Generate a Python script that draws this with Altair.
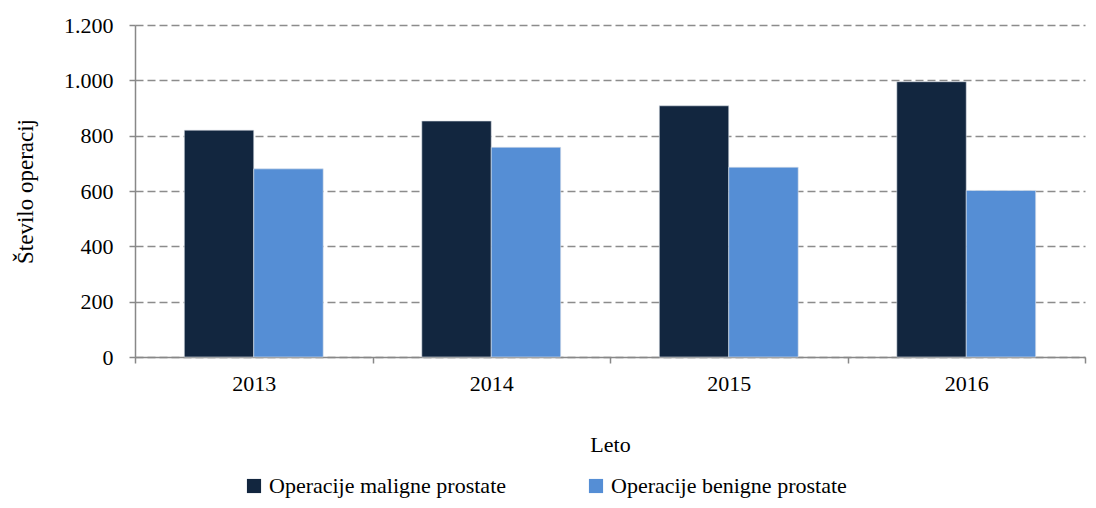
import altair as alt
import pandas as pd

years = ["2013", "2014", "2015", "2016"]
series = ["Operacije maligne prostate", "Operacije benigne prostate"]
maligne = [820, 853, 908, 995]
benigne = [680, 758, 686, 602]
colors = ["#12263F", "#558ED5"]

rows = []
for i, y in enumerate(years):
    rows.append({"Leto": y, "Serija": series[0], "Vrednost": maligne[i]})
    rows.append({"Leto": y, "Serija": series[1], "Vrednost": benigne[i]})
df = pd.DataFrame(rows)

FONT = "Liberation Serif"

chart = alt.Chart(df).mark_bar(stroke="#dde3ea", strokeWidth=0.6).encode(
    x=alt.X("Leto:N", sort=years, title="Leto",
            scale=alt.Scale(paddingInner=0, paddingOuter=0),
            axis=alt.Axis(labelAngle=0, tickBand="extent", ticks=True, tickSize=6,
                          tickColor="#888888", domainColor="#888888", domainWidth=1.5,
                          tickWidth=1.5, labelPadding=10, titlePadding=40, grid=False,
                          labelFont=FONT, titleFont=FONT)),
    xOffset=alt.XOffset("Serija:N", sort=series,
                        scale=alt.Scale(paddingInner=0, paddingOuter=0.71)),
    y=alt.Y("Vrednost:Q", title="Število operacij",
            scale=alt.Scale(domain=[0, 1200]),
            axis=alt.Axis(values=[0, 200, 400, 600, 800, 1000, 1200], tickSize=6,
                          tickColor="#888888", domainColor="#888888", domainWidth=1.5,
                          tickWidth=1.5, labelPadding=16, titlePadding=26,
                          labelExpr="replace(format(datum.value, ','), ',', '.')",
                          grid=True, gridColor="#8c8c8c", gridDash=[8, 4], gridWidth=1.5,
                          labelFont=FONT, titleFont=FONT, titleFontSize=23)),
    color=alt.Color("Serija:N", sort=series,
                    scale=alt.Scale(domain=series, range=colors),
                    legend=alt.Legend(title=None, orient="none", legendX=108, legendY=450,
                                      direction="horizontal", symbolType="square",
                                      symbolSize=200, symbolStrokeWidth=0,
                                      columnPadding=78, labelOffset=4,
                                      labelFont=FONT, labelFontSize=22)),
).properties(
    width=950, height=332,
    padding={"left": 127, "top": 17, "right": 3, "bottom": 143},
    autosize=alt.AutoSizeParams(type="none"),
).configure(
    font=FONT,
).configure_axis(
    labelFontSize=22, titleFontSize=22,
    labelColor="#000000", titleColor="#000000", titleFontWeight="normal",
).configure_legend(
    labelColor="#000000", labelLimit=400,
).configure_view(stroke=None)

chart.save("out.html", embed_options={"renderer": "svg", "actions": False})
